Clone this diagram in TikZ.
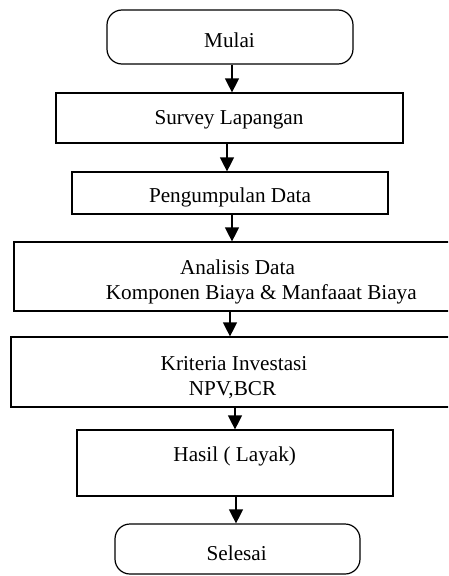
\documentclass[tikz,border=0pt]{standalone}
\usepackage{fontspec}
\setmainfont{Liberation Serif}
\usetikzlibrary{arrows.meta}
\begin{document}
\begin{tikzpicture}[x=1pt,y=-1pt,
  box/.style={draw=black, line width=1.2pt, inner sep=0pt, fill=white},
  termbox/.style={box, rounded corners=15pt},
  lbl/.style={anchor=base, inner sep=0pt, font=\fontsize{21.2}{25}\selectfont},
  arr/.style={line width=1.2pt, -{Triangle[width=14pt,length=14pt]}}]
\useasboundingbox (0,0) rectangle (448,576);
\clip (0,0) rectangle (448,576);
% boxes
\node[termbox, minimum width=246pt, minimum height=54pt] (mulai) at (230,37) {};
\node[box, minimum width=347pt, minimum height=50pt] (survey) at (229.5,118) {};
\node[box, minimum width=316pt, minimum height=42pt] (kumpul) at (230,193) {};
\node[box, minimum width=446pt, minimum height=69pt] (analisis) at (237,276.5) {};
\node[box, minimum width=447pt, minimum height=70pt] (kriteria) at (234.5,372) {};
\node[box, minimum width=316pt, minimum height=66pt] (hasil) at (235,463) {};
\node[termbox, minimum width=245pt, minimum height=50pt] (selesai) at (237.5,549) {};
% texts
\node[lbl] (tmulai) at (229.5,47) {Mulai};
\node[lbl] (tsurvey) at (229,124) {Survey Lapangan};
\node[lbl] (tkumpul) at (230,202) {Pengumpulan Data};
\node[lbl] (tanalisis1) at (237.5,274) {Analisis Data};
\node[lbl] (tanalisis2) at (261.3,299) {Komponen Biaya \& Manfaaat Biaya};
\node[lbl] (tkriteria1) at (234,370) {Kriteria Investasi};
\node[lbl] (tkriteria2) at (232.5,395) {NPV,BCR};
\node[lbl] (thasil) at (234.7,461.5) {Hasil ( Layak)};
\node[lbl] (tselesai) at (236.7,560.7) {Selesai};
% arrows
\draw[arr] ([xshift=2pt]mulai.south) -- ([xshift=2.5pt]survey.north);
\draw[arr] ([xshift=-2.5pt]survey.south) -- ([xshift=-3pt]kumpul.north);
\draw[arr] ([xshift=2pt]kumpul.south) -- ([xshift=-5pt]analisis.north);
\draw[arr] ([xshift=-7pt]analisis.south) -- ([xshift=-4.5pt]kriteria.north);
\draw[arr] ([xshift=0.5pt]kriteria.south) -- (hasil.north);
\draw[arr] ([xshift=1pt]hasil.south) -- ([xshift=-1.5pt]selesai.north);
\end{tikzpicture}
\end{document}
